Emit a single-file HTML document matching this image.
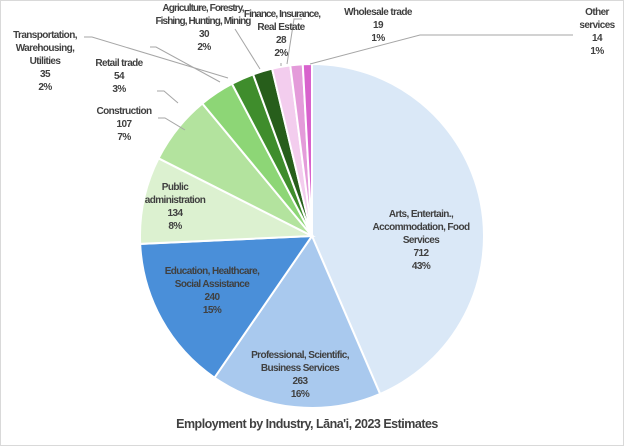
<!DOCTYPE html>
<html><head><meta charset="utf-8"><style>
body{margin:0;background:#fff;}
svg{display:block;font-family:"Liberation Sans",Arial,sans-serif;}
text{fill:#404040;font-size:10px;text-anchor:middle;font-weight:bold;letter-spacing:-0.6px;}
.t{letter-spacing:-0.9px;}
</style></head><body>
<svg id="s" width="624" height="446" xmlns="http://www.w3.org/2000/svg">
<rect x="0.5" y="0.5" width="623" height="445" fill="#fff" stroke="#d9d9d9"/>
<g id="pie"></g>
<g stroke="#a6a6a6" fill="none" stroke-width="1">
<polyline points="84,37 92,37 228,78"/>
<polyline points="150,47 156,47 220,82"/>
<polyline points="157,91 164,91 178,103"/>
<polyline points="158,118 165,118 185,130"/>
<polyline points="235,29 260,69"/>
<polyline points="281,63 281,66"/>
<polyline points="302,19 294,19 287,64"/>
<polyline points="573,35 420,35 310,64"/>
</g>
<g>
<text x="45" y="38">Transportation,</text><text x="45" y="51">Warehousing,</text><text x="45" y="64">Utilities</text><text x="45" y="77">35</text><text x="45" y="90">2%</text>
<text x="119" y="66">Retail trade</text><text x="119" y="79">54</text><text x="119" y="92">3%</text>
<text x="124" y="114">Construction</text><text x="124" y="127">107</text><text x="124" y="140">7%</text>
<text x="175" y="190">Public</text><text x="175" y="203">administration</text><text x="175" y="216">134</text><text x="175" y="229">8%</text>
<text class="t" x="203" y="11">Agriculture, Forestry,</text><text class="t" x="203" y="24">Fishing, Hunting, Mining</text><text x="204" y="37">30</text><text x="204" y="50">2%</text>
<text class="t" x="282" y="17">Finance, Insurance,</text><text x="281" y="30">Real Estate</text><text x="281" y="43">28</text><text x="281" y="56">2%</text>
<text x="378" y="15">Wholesale trade</text><text x="378" y="28">19</text><text x="378" y="41">1%</text>
<text x="597" y="15">Other</text><text x="597" y="28">services</text><text x="597" y="41">14</text><text x="597" y="54">1%</text>
<text x="421" y="217">Arts, Entertain.,</text><text x="421" y="230">Accommodation, Food</text><text x="421" y="243">Services</text><text x="421" y="256">712</text><text x="421" y="269">43%</text>
<text x="212" y="274">Education, Healthcare,</text><text x="212" y="287">Social Assistance</text><text x="212" y="300">240</text><text x="212" y="313">15%</text>
<text x="300" y="358">Professional, Scientific,</text><text x="300" y="371">Business Services</text><text x="300" y="384">263</text><text x="300" y="397">16%</text>
<text x="307" y="428" style="font-size:12.5px;letter-spacing:-0.5px">Employment by Industry, Lāna'i, 2023 Estimates</text>
</g>
</svg>
<script>
var v=[712,263,240,134,107,54,35,30,28,19,14];
var c=["#dae8f7","#a9c9ee","#4a8fd9","#dcf1d0","#b3e39e","#8dd676","#3f8d2c","#275e1b","#f3cdee","#e49bda","#d862cd"];
var t=0;for(var i=0;i<v.length;i++)t+=v[i];
var cx=312,cy=236,r=172,a=0,h="";
for(var i=0;i<v.length;i++){var b=a+v[i]/t*2*Math.PI;
var x1=cx+r*Math.sin(a),y1=cy-r*Math.cos(a),x2=cx+r*Math.sin(b),y2=cy-r*Math.cos(b);
h+='<path d="M'+cx+','+cy+'L'+x1+','+y1+'A'+r+','+r+' 0 '+((b-a)>Math.PI?1:0)+' 1 '+x2+','+y2+'Z" fill="'+c[i]+'" stroke="#fff" stroke-width="2"/>';a=b;}
document.getElementById("pie").innerHTML=h;
</script>
</body></html>
